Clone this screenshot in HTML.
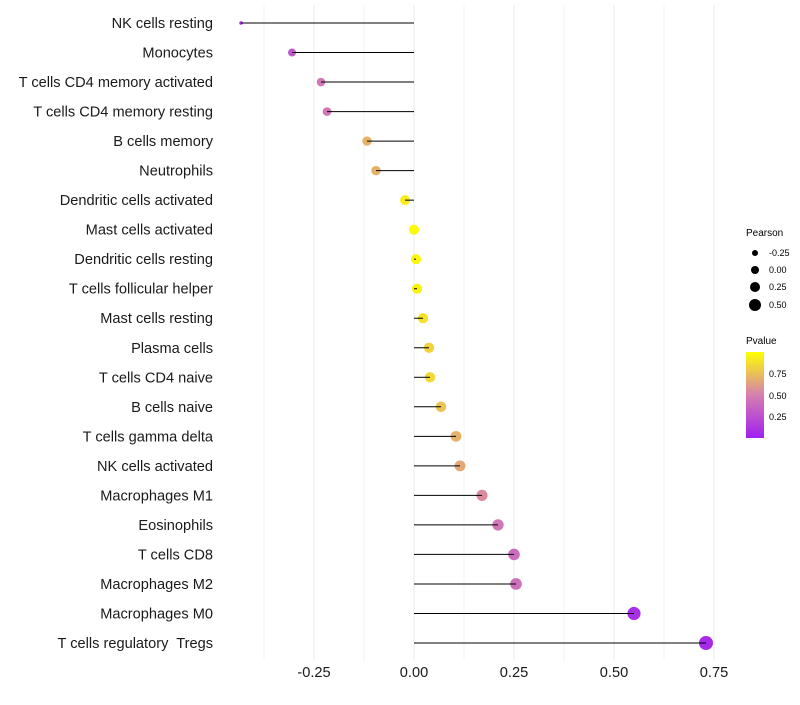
<!DOCTYPE html>
<html><head><meta charset="utf-8"><style>
body{margin:0;background:#fff;font-family:"Liberation Sans",Arial,sans-serif}
text{white-space:pre}
</style></head><body>
<svg id="chart" width="800" height="700" xmlns="http://www.w3.org/2000/svg">
<defs><linearGradient id="pg" x1="0" y1="1" x2="0" y2="0">
<stop offset="0" stop-color="#a020f0"/><stop offset="0.5" stop-color="#d67fb0"/><stop offset="1" stop-color="#ffff00"/></linearGradient></defs>
<g id="grid"></g><g id="marks"></g><g id="labels"></g>
<g font-size="9">
<text x="746" y="236" font-size="10">Pearson</text>
<circle cx="755" cy="253" r="3"/><text x="769" y="256">-0.25</text>
<circle cx="755" cy="270" r="4"/><text x="769" y="273">0.00</text>
<circle cx="755" cy="287" r="5"/><text x="769" y="290">0.25</text>
<circle cx="755" cy="305" r="6"/><text x="769" y="308">0.50</text>
</g>
<g font-size="9">
<text x="746" y="344" font-size="10">Pvalue</text>
<rect x="746" y="352" width="18" height="86" fill="url(#pg)"/>
<text x="769" y="377">0.75</text><text x="769" y="399">0.50</text><text x="769" y="420">0.25</text>
</g>
</svg>
<script>
const categories=["NK cells resting","Monocytes","T cells CD4 memory activated","T cells CD4 memory resting","B cells memory","Neutrophils","Dendritic cells activated","Mast cells activated","Dendritic cells resting","T cells follicular helper","Mast cells resting","Plasma cells","T cells CD4 naive","B cells naive","T cells gamma delta","NK cells activated","Macrophages M1","Eosinophils","T cells CD8","Macrophages M2","Macrophages M0","T cells regulatory  Tregs"];
const pearson=[-0.4325,-0.305,-0.2325,-0.2175,-0.1175,-0.095,-0.0225,0.0,0.005,0.0075,0.0225,0.0375,0.04,0.0675,0.105,0.115,0.17,0.21,0.25,0.255,0.55,0.73];
const pvalue=[0.08,0.3,0.45,0.45,0.7,0.7,0.93,0.98,0.97,0.95,0.88,0.83,0.85,0.76,0.7,0.66,0.55,0.45,0.4,0.42,0.08,0.05];
const ticks=[-0.25,0,0.25,0.5,0.75];
const tickLabels=["-0.25","0.00","0.25","0.50","0.75"];
const NS="http://www.w3.org/2000/svg";
const x=v=>414+v*400, y=i=>23+i*(620/21);
function mk(t,a,p){const e=document.createElementNS(NS,t);for(const k in a)e.setAttribute(k,a[k]);p.appendChild(e);return e;}
function col(p){const s=[[160,32,240],[214,127,176],[255,255,0]];let t=Math.max(0,Math.min(1,p));let a,b,f;if(t<0.5){a=s[0];b=s[1];f=t/0.5}else{a=s[1];b=s[2];f=(t-0.5)/0.5}return`rgb(${a.map((c,i)=>Math.round(c+(b[i]-c)*f)).join(',')})`;}
const rad=v=>v<-0.4?1.8:Math.sqrt(Math.max(2,25.7+31.9*v));
const g=document.getElementById('grid'),m=document.getElementById('marks'),l=document.getElementById('labels');
for(let v=-0.375;v<=0.751;v+=0.125){const ln=mk('line',{x1:x(v),x2:x(v),y1:5,y2:660,stroke:'#ebebeb','stroke-width':Math.abs((v/0.25)%1)<1e-6?1:0.6},g);

}
categories.forEach((c,i)=>{
const t=mk('text',{x:213,y:y(i)+5,'text-anchor':'end','font-size':14.6,fill:'#1a1a1a'},l);t.textContent=c;


const pt=mk('circle',{cx:x(pearson[i]),cy:y(i),r:rad(pearson[i]),fill:col(pvalue[i])},m);


const sg=mk('line',{x1:x(0),x2:x(pearson[i]),y1:y(i),y2:y(i),stroke:'#000','stroke-width':1},m);


});
ticks.forEach((v,i)=>{const t=mk('text',{x:x(v),y:677,'text-anchor':'middle','font-size':14.6,fill:'#1a1a1a'},l);t.textContent=tickLabels[i];

});
</script>
</body></html>
